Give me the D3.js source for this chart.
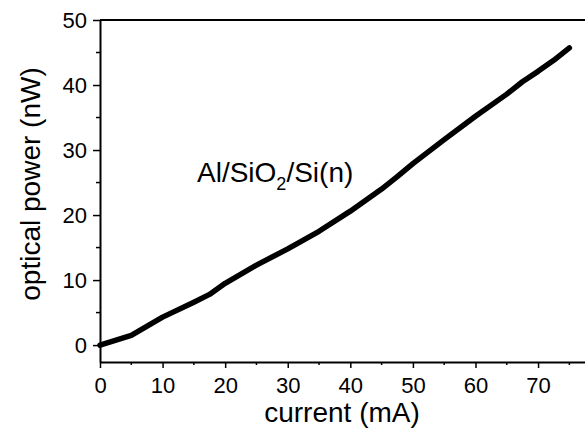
<!DOCTYPE html>
<html><head><meta charset="utf-8">
<script src="https://cdn.jsdelivr.net/npm/d3@7"></script>
<style>body{margin:0;background:#fff}svg{display:block}text{font-family:"Liberation Sans",Arial,sans-serif;fill:#000}</style>
</head><body><svg id="c" width="585" height="430"></svg>
<script>
const current = [0, 5, 10, 15, 17.5, 20, 25, 30, 35, 40, 45, 47.5, 50, 55, 60, 65, 67.5, 70, 72.5, 75];
const power   = [0, 1.5, 4.3, 6.6, 7.8, 9.5, 12.3, 14.8, 17.5, 20.6, 24.0, 25.9, 27.9, 31.6, 35.2, 38.6, 40.5, 42.1, 43.8, 45.7];
const xMajor = [0, 10, 20, 30, 40, 50, 60, 70];
const xMinor = [5, 15, 25, 35, 45, 55, 65, 75];
const yMajor = [0, 10, 20, 30, 40, 50];
const yMinor = [5, 15, 25, 35, 45];

const svg = d3.select("#c");
const L = 100, R = 585, T = 20, B = 362;
const x = d3.scaleLinear().domain([0, 77.5]).range([L, R]);
const y = d3.scaleLinear().domain([-2.6, 50]).range([B, T]);

// top frame line
svg.append("line").attr("x1", L).attr("x2", R).attr("y1", T).attr("y2", T).attr("stroke", "#000").attr("stroke-width", 2);

// x axis
const gx = svg.append("g").attr("transform", `translate(0,${B})`);
gx.call(d3.axisBottom(x).tickValues(xMajor).tickSize(6).tickSizeOuter(0).tickPadding(9).tickFormat(d3.format("d")));
gx.append("g").selectAll("line").data(xMinor).join("line")
  .attr("x1", d => x(d)).attr("x2", d => x(d)).attr("y1", 0).attr("y2", 3).attr("stroke", "#000").attr("stroke-width", 1.5);

// y axis
const gy = svg.append("g").attr("transform", `translate(${L},0)`);
gy.call(d3.axisLeft(y).tickValues(yMajor).tickSize(7).tickSizeOuter(0).tickPadding(6).tickFormat(d3.format("d")));
gy.append("g").selectAll("line").data(yMinor).join("line")
  .attr("x1", 0).attr("x2", -4).attr("y1", d => y(d)).attr("y2", d => y(d)).attr("stroke", "#000").attr("stroke-width", 1.5);

[gx, gy].forEach(g => {
  g.select(".domain").attr("stroke-width", 2);
  g.selectAll(".tick line").attr("stroke-width", 1.5);
  g.selectAll(".tick text").attr("font-size", 22).attr("font-family", "Liberation Sans, Arial, sans-serif");
});
gx.selectAll(".tick text").attr("dy", "0.71em");

// data line
svg.append("path")
  .datum(current.map((c, i) => [c, power[i]]))
  .attr("fill", "none").attr("stroke", "#000").attr("stroke-width", 5.5)
  .attr("stroke-linejoin", "round").attr("stroke-linecap", "round")
  .attr("d", d3.line().x(d => x(d[0])).y(d => y(d[1])));

// axis titles
svg.append("text").attr("x", 342).attr("y", 422).attr("text-anchor", "middle").attr("font-size", 28).text("current (mA)");
svg.append("text").attr("transform", "translate(40,184) rotate(-90)").attr("text-anchor", "middle").attr("font-size", 28).text("optical power (nW)");

// annotation
const ann = svg.append("text").attr("x", 197).attr("y", 182).attr("font-size", 28);
ann.append("tspan").text("Al/SiO");
ann.append("tspan").attr("font-size", 18).attr("dy", 8).text("2");
ann.append("tspan").attr("dy", -8).text("/Si(n)");
</script></body></html>
